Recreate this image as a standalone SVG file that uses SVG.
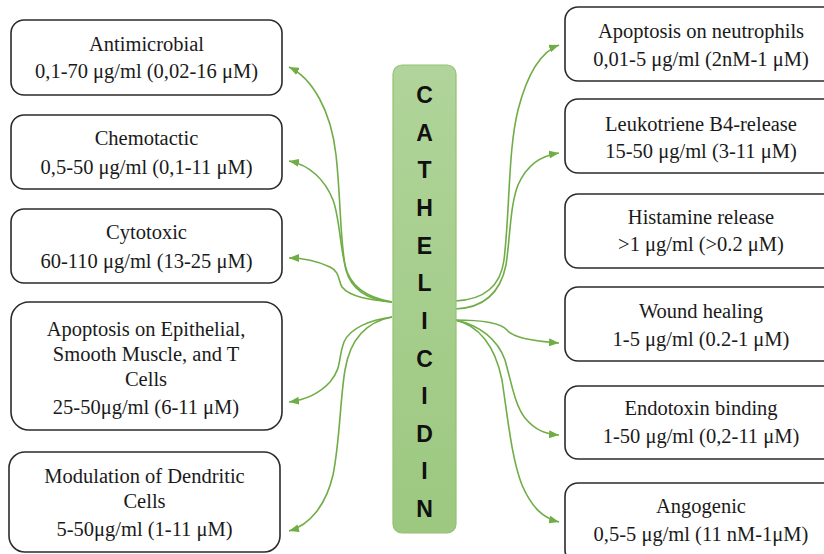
<svg xmlns="http://www.w3.org/2000/svg" width="824" height="554" viewBox="0 0 824 554">
<defs>
<linearGradient id="g" x1="0" y1="0" x2="0" y2="1">
<stop offset="0" stop-color="#b0d49a"/>
<stop offset="1" stop-color="#9cc880"/>
</linearGradient>
<marker id="ah" viewBox="0 0 10 8" refX="10" refY="4" markerWidth="10" markerHeight="8" markerUnits="userSpaceOnUse" orient="auto">
<path d="M0,0 L10,4 L0,8 z" fill="#70ad47"/>
</marker>
<style>
.box{fill:#fff;stroke:#2b2b2b;stroke-width:1.6}
.t{font-family:"Liberation Serif","Times New Roman","DejaVu Serif",serif;font-size:20.5px;fill:#1a1a1a;text-anchor:middle}
.c{fill:none;stroke:#70ad47;stroke-width:1.6;marker-end:url(#ah)}
.L{font-family:"Liberation Sans",Arial,sans-serif;font-weight:bold;font-size:23px;fill:#111;text-anchor:middle}
</style>
</defs>
<rect width="824" height="554" fill="#fff"/>
<g id="connectors">
<path class="c" d="M392,302 C370,300 352,292 346,270 C340,245 341,200 336,155 C331,110 312,78 289,67"/>
<path class="c" d="M392,302 C368,298 350,288 345,265 C340,245 339,215 333,200 C325,180 310,165 289,161"/>
<path class="c" d="M392,302 C370,300 350,297 342,287 C338,280 340,272 330,267 C315,260 300,258 289,258"/>
<path class="c" d="M392,317 C370,320 350,328 344,342 C338,358 342,368 330,382 C318,395 305,400 289,402"/>
<path class="c" d="M392,317 C365,322 350,340 345,370 C340,400 340,440 333,475 C326,505 310,525 289,531"/>
<path class="c" d="M455,301 C480,300 500,290 504,260 C510,210 508,150 518,110 C527,75 540,52 559,45"/>
<path class="c" d="M455,309 C482,308 500,295 506,265 C510,240 510,205 518,185 C527,165 540,156 559,153"/>
<path class="c" d="M455,320 C480,320 500,322 507,330 C512,337 530,341 559,343"/>
<path class="c" d="M455,320 C480,325 498,340 505,360 C512,385 515,405 525,418 C535,430 545,434 559,435"/>
<path class="c" d="M455,320 C478,325 495,345 502,380 C508,420 512,460 522,485 C532,508 543,518 559,522"/>
</g>
<g id="cathelicidin">
<rect x="393" y="65" width="63" height="468" rx="9" fill="url(#g)" stroke="#93c274" stroke-width="1.2"/>
<text class="L" x="424.5" y="103">C</text>
<text class="L" x="424.5" y="140.6">A</text>
<text class="L" x="424.5" y="178.3">T</text>
<text class="L" x="424.5" y="215.9">H</text>
<text class="L" x="424.5" y="253.6">E</text>
<text class="L" x="424.5" y="291.2">L</text>
<text class="L" x="424.5" y="328.8">I</text>
<text class="L" x="424.5" y="366.5">C</text>
<text class="L" x="424.5" y="404.1">I</text>
<text class="L" x="424.5" y="441.8">D</text>
<text class="L" x="424.5" y="479.4">I</text>
<text class="L" x="424.5" y="517">N</text>
</g>
<g id="antimicrobial">
<rect class="box" x="11" y="20" width="271" height="75" rx="13"/>
<text class="t" x="146.5" y="51">Antimicrobial</text>
<text class="t" x="146.5" y="78">0,1-70 μg/ml (0,02-16 μM)</text>
</g>
<g id="chemotactic">
<rect class="box" x="11" y="115" width="271" height="74" rx="13"/>
<text class="t" x="146.5" y="145">Chemotactic</text>
<text class="t" x="146.5" y="174">0,5-50 μg/ml (0,1-11 μM)</text>
</g>
<g id="cytotoxic">
<rect class="box" x="11" y="209" width="271" height="74" rx="13"/>
<text class="t" x="146.5" y="239">Cytotoxic</text>
<text class="t" x="146.5" y="268">60-110 μg/ml (13-25 μM)</text>
</g>
<g id="apoptosis-epithelial">
<rect class="box" x="11" y="302" width="271" height="128" rx="18"/>
<text class="t" x="146" y="336">Apoptosis on Epithelial,</text>
<text class="t" x="146" y="361">Smooth Muscle, and T</text>
<text class="t" x="146" y="386">Cells</text>
<text class="t" x="146" y="414">25-50μg/ml (6-11 μM)</text>
</g>
<g id="dendritic">
<rect class="box" x="9" y="452" width="271" height="100" rx="16"/>
<text class="t" x="144.5" y="483">Modulation of Dendritic</text>
<text class="t" x="144.5" y="508">Cells</text>
<text class="t" x="144.5" y="536">5-50μg/ml (1-11 μM)</text>
</g>
<g id="apoptosis-neutrophils">
<rect class="box" x="565" y="7" width="272" height="74" rx="13"/>
<text class="t" x="701" y="38">Apoptosis on neutrophils</text>
<text class="t" x="701" y="66">0,01-5 μg/ml (2nM-1 μM)</text>
</g>
<g id="leukotriene">
<rect class="box" x="565" y="99" width="272" height="74" rx="13"/>
<text class="t" x="701" y="131">Leukotriene B4-release</text>
<text class="t" x="701" y="158">15-50 μg/ml (3-11 μM)</text>
</g>
<g id="histamine">
<rect class="box" x="565" y="194" width="272" height="74" rx="13"/>
<text class="t" x="701" y="224">Histamine release</text>
<text class="t" x="701" y="251">&gt;1 μg/ml (&gt;0.2 μM)</text>
</g>
<g id="wound">
<rect class="box" x="565" y="287" width="272" height="74" rx="13"/>
<text class="t" x="701" y="318">Wound healing</text>
<text class="t" x="701" y="346">1-5 μg/ml (0.2-1 μM)</text>
</g>
<g id="endotoxin">
<rect class="box" x="565" y="386" width="272" height="73" rx="13"/>
<text class="t" x="701" y="415">Endotoxin binding</text>
<text class="t" x="701" y="443">1-50 μg/ml (0,2-11 μM)</text>
</g>
<g id="angogenic">
<rect class="box" x="565" y="483" width="272" height="80" rx="13"/>
<text class="t" x="701" y="513">Angogenic</text>
<text class="t" x="701" y="541">0,5-5 μg/ml (11 nM-1μM)</text>
</g>
</svg>
